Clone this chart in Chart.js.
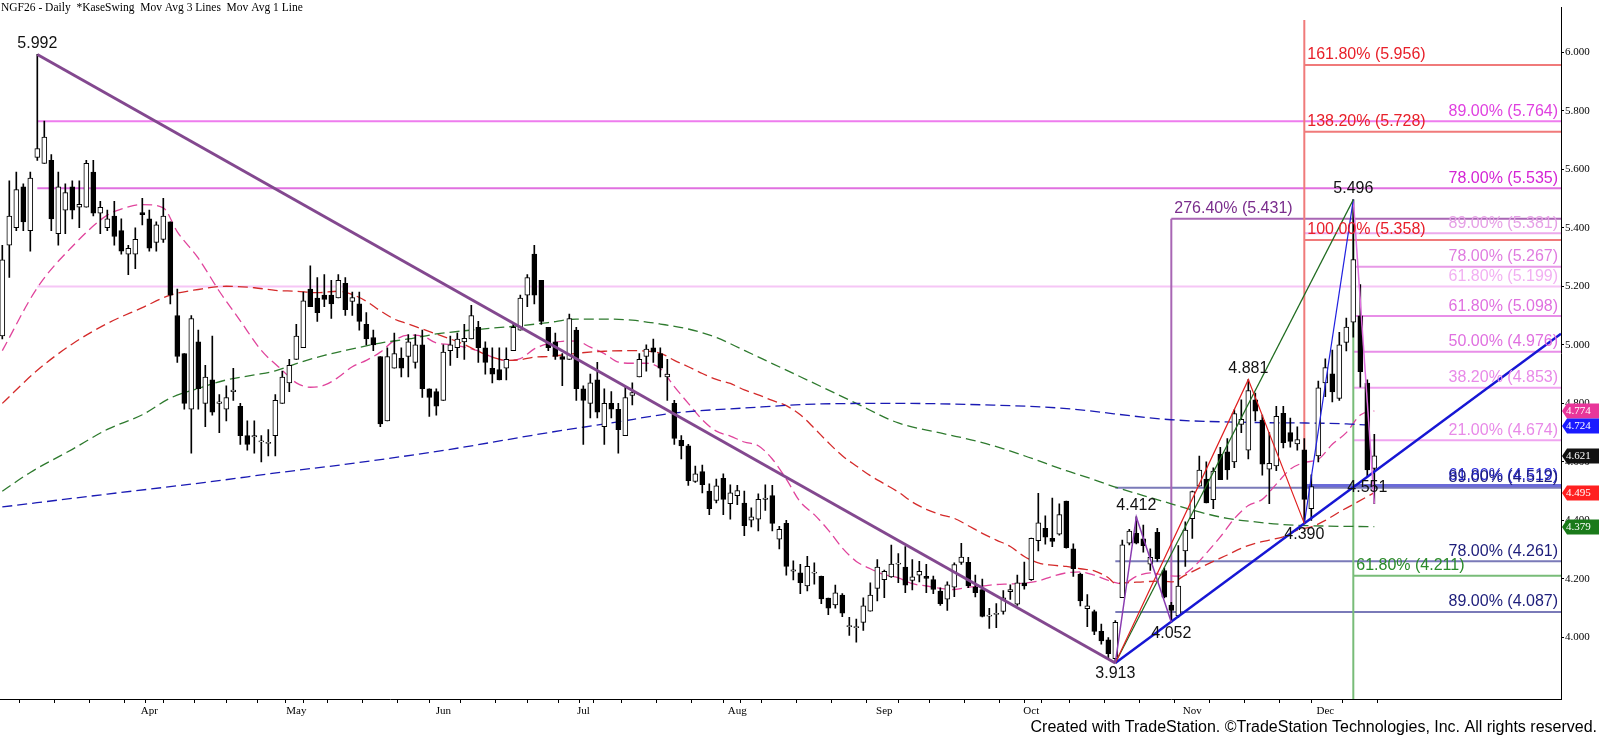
<!DOCTYPE html>
<html>
<head>
<meta charset="utf-8">
<title>NGF26 - Daily</title>
<script src="https://cdn.jsdelivr.net/npm/chart.js@4.4.1/dist/chart.umd.min.js"></script>
<style>
  html, body { margin: 0; padding: 0; background: #fff; }
  #wrap { width: 1600px; height: 739px; position: relative; }
</style>
</head>
<body>
<div id="wrap"><canvas id="chart"></canvas></div>
<script>
// daily bars, index 0 = first bar on the chart (early March)
const opens = [
  5.03,5.34,5.40,5.54,5.39,5.64,5.62,5.63,5.38,5.46,
  5.54,5.47,5.47,5.59,5.45,5.40,5.44,5.39,5.31,5.31,
  5.452,5.43,5.35,5.36,5.42,5.10,4.97,4.78,5.01,4.80,
  4.88,4.80,4.78,4.84,4.79,4.69,4.685,4.668,4.663,4.69,
  4.80,4.87,4.95,4.99,5.19,5.16,5.17,5.17,5.16,5.21,
  5.148,5.14,5.07,5.025,4.96,4.74,4.92,4.955,4.96,4.94,
  5.00,4.85,4.84,4.81,4.98,4.99,5.01,5.02,5.06,4.99,
  4.92,4.915,4.92,4.98,5.05,5.17,5.31,5.22,5.06,5.01,
  4.96,4.95,5.05,4.85,4.80,4.88,4.72,4.80,4.78,4.69,
  4.827,4.89,4.96,4.99,4.97,4.89,4.80,4.674,4.655,4.533,
  4.567,4.50,4.468,4.544,4.457,4.485,4.459,4.401,4.404,4.472,
  4.485,4.336,4.39,4.227,4.221,4.176,4.22,4.209,4.135,4.111,
  4.145,4.037,4.034,4.052,4.09,4.168,4.198,4.207,4.251,4.241,
  4.195,4.213,4.209,4.198,4.159,4.131,4.172,4.257,4.257,4.172,
  4.164,4.073,4.079,4.089,4.157,4.114,4.187,4.198,4.331,4.373,
  4.339,4.353,4.466,4.303,4.217,4.099,4.089,4.021,3.992,3.928,
  4.136,4.322,4.356,4.337,4.251,4.359,4.229,4.111,4.074,4.296,
  4.406,4.517,4.541,4.471,4.626,4.634,4.60,4.728,4.64,4.812,
  4.743,4.575,4.586,4.766,4.70,4.661,4.641,4.44,4.62,4.87,
  4.901,4.817,5.008,5.077,5.099,4.869,4.578
];
const highs = [
  5.34,5.56,5.59,5.55,5.59,5.992,5.764,5.65,5.59,5.55,
  5.56,5.56,5.63,5.63,5.49,5.46,5.49,5.43,5.34,5.40,
  5.50,5.46,5.42,5.50,5.42,5.19,4.97,5.10,5.05,4.93,
  5.03,4.83,4.86,4.92,4.80,4.74,4.74,4.69,4.71,4.83,
  4.91,4.95,5.07,5.18,5.27,5.23,5.24,5.22,5.24,5.23,
  5.18,5.18,5.11,5.05,4.96,4.99,5.04,4.99,5.035,5.035,
  5.05,4.85,4.85,5.00,5.03,5.04,5.07,5.135,5.08,5.01,
  4.99,4.99,4.99,5.07,5.17,5.24,5.34,5.22,5.06,5.04,
  4.97,5.105,5.06,4.86,4.90,4.94,4.85,4.84,4.80,4.855,
  4.87,4.97,5.00,5.02,4.99,4.95,4.81,4.69,4.66,4.586,
  4.589,4.525,4.541,4.559,4.522,4.52,4.50,4.443,4.491,4.522,
  4.52,4.38,4.40,4.262,4.25,4.277,4.255,4.21,4.135,4.179,
  4.15,4.069,4.063,4.136,4.187,4.266,4.23,4.316,4.287,4.311,
  4.266,4.26,4.25,4.21,4.17,4.19,4.255,4.322,4.274,4.213,
  4.20,4.10,4.116,4.16,4.18,4.213,4.258,4.34,4.493,4.416,
  4.476,4.457,4.466,4.32,4.22,4.147,4.094,4.046,4.00,4.058,
  4.333,4.37,4.412,4.384,4.303,4.373,4.237,4.12,4.314,4.395,
  4.50,4.62,4.60,4.58,4.65,4.68,4.778,4.812,4.881,4.835,
  4.76,4.70,4.79,4.79,4.75,4.72,4.68,4.556,4.876,4.952,
  4.982,5.043,5.091,5.496,5.206,4.88,4.694
];
const lows = [
  5.02,5.23,5.39,5.39,5.32,5.63,5.62,5.39,5.34,5.38,
  5.43,5.40,5.47,5.44,5.38,5.39,5.34,5.31,5.24,5.26,
  5.41,5.32,5.32,5.35,5.14,4.94,4.78,4.63,4.78,4.72,
  4.76,4.70,4.74,4.81,4.66,4.64,4.63,4.60,4.62,4.62,
  4.80,4.84,4.95,4.99,5.13,5.08,5.13,5.09,5.16,5.10,
  5.10,5.05,5.00,4.98,4.72,4.74,4.92,4.89,4.89,4.92,
  4.82,4.755,4.76,4.81,4.93,4.956,4.95,5.02,4.94,4.90,
  4.87,4.88,4.88,4.98,5.05,5.13,5.14,5.07,4.98,4.95,
  4.86,4.95,4.81,4.66,4.75,4.75,4.66,4.75,4.63,4.69,
  4.795,4.89,4.91,4.94,4.89,4.81,4.66,4.61,4.52,4.53,
  4.494,4.42,4.46,4.42,4.404,4.454,4.348,4.378,4.364,4.434,
  4.364,4.303,4.213,4.197,4.15,4.159,4.182,4.116,4.078,4.10,
  4.071,4.007,3.984,4.024,4.09,4.125,4.136,4.205,4.187,4.153,
  4.163,4.19,4.153,4.15,4.11,4.093,4.14,4.25,4.17,4.139,
  4.07,4.031,4.034,4.08,4.13,4.11,4.165,4.195,4.296,4.319,
  4.31,4.35,4.305,4.209,4.108,4.037,4.01,3.977,3.928,3.913,
  4.136,4.316,4.32,4.292,4.229,4.26,4.135,4.052,4.069,4.243,
  4.339,4.517,4.46,4.44,4.539,4.54,4.58,4.70,4.61,4.74,
  4.555,4.457,4.57,4.648,4.65,4.64,4.39,4.40,4.60,4.823,
  4.805,4.81,4.979,5.026,4.855,4.551,4.457
];
const closes = [
  5.29,5.44,5.53,5.42,5.57,5.67,5.71,5.43,5.54,5.52,
  5.46,5.48,5.62,5.45,5.47,5.43,5.37,5.32,5.33,5.36,
  5.445,5.33,5.41,5.44,5.17,4.96,4.80,5.09,4.85,4.89,
  4.77,4.805,4.82,4.845,4.69,4.66,4.69,4.672,4.667,4.81,
  4.89,4.93,5.03,5.15,5.13,5.11,5.155,5.14,5.22,5.12,
  5.161,5.08,5.02,5.00,4.73,4.96,4.97,4.92,5.01,5.00,
  4.85,4.82,4.79,4.975,5.00,5.02,5.022,5.10,4.99,4.94,
  4.90,4.88,4.95,5.06,5.16,5.23,5.17,5.08,4.99,4.96,
  4.95,5.09,4.85,4.81,4.87,4.77,4.80,4.78,4.71,4.82,
  4.837,4.95,4.985,4.975,4.92,4.90,4.68,4.655,4.536,4.559,
  4.522,4.44,4.518,4.472,4.494,4.502,4.382,4.412,4.472,4.476,
  4.39,4.37,4.243,4.231,4.187,4.243,4.222,4.132,4.10,4.153,
  4.083,4.039,4.036,4.108,4.145,4.241,4.226,4.251,4.253,4.179,
  4.207,4.226,4.202,4.164,4.116,4.18,4.249,4.275,4.176,4.153,
  4.072,4.075,4.081,4.136,4.164,4.187,4.176,4.339,4.392,4.343,
  4.328,4.42,4.307,4.235,4.125,4.108,4.021,3.988,3.945,4.052,
  4.317,4.364,4.322,4.314,4.274,4.269,4.138,4.093,4.176,4.367,
  4.499,4.572,4.46,4.569,4.539,4.573,4.765,4.745,4.844,4.773,
  4.592,4.595,4.756,4.666,4.67,4.676,4.472,4.516,4.853,4.922,
  4.839,5.00,5.061,5.291,4.908,4.573,4.621
];

// time axis: bar index of each week start and each month start
const weekTicks = [0,5,10,15,20,25,30,34,39,44,49,54,59,63,68,73,77,82,86,91,96,101,
  106,111,116,121,126,130,135,140,145,150,155,160,165,170,175,180,185,189,194];
const monthTicks = [21,42,63,83,105,126,147,170,189];
const monthNames = ['Apr','May','Jun','Jul','Aug','Sep','Oct','Nov','Dec'];
const priceTicks = [4.0,4.2,4.4,4.6,4.8,5.0,5.2,5.4,5.6,5.8,6.0];

// moving averages at these bars
const pinkIdx = [0,5,10,15,18,20,23,25,28,31,34,37,40,42,44,46,48,50,52,54,56,58,60,62,64,66,68,70,72,74,
  76,78,80,82,84,86,88,90,92,94,96,98,100,102,104,106,108,110,112,114,116,118,120,122,124,126,128,130,
  132,134,136,138,140,142,144,146,148,150,152,154,156,158,160,162,164,166,168,170,172,174,176,178,180,
  182,184,186,188,190,192,194,196];
const pinkVals = [4.98,5.195,5.336,5.443,5.471,5.479,5.468,5.386,5.296,5.183,5.082,4.981,4.913,4.87,4.855,
  4.862,4.889,4.925,4.947,4.975,5.015,5.033,5.03,5.006,5.001,4.992,4.979,4.958,4.947,4.953,4.986,5.004,
  5.012,5.013,4.992,4.97,4.941,4.937,4.937,4.919,4.857,4.80,4.744,4.705,4.688,4.668,4.655,4.61,4.541,
  4.463,4.42,4.367,4.306,4.26,4.235,4.215,4.204,4.184,4.176,4.168,4.164,4.172,4.176,4.181,4.183,4.186,
  4.193,4.209,4.221,4.224,4.213,4.195,4.183,4.209,4.221,4.213,4.21,4.237,4.288,4.344,4.406,4.451,4.472,
  4.524,4.575,4.598,4.609,4.66,4.70,4.76,4.774];
const redIdx = [0,5,10,15,20,24,28,32,36,39,42,45,48,50,52,54,56,58,60,62,64,66,68,70,72,74,76,78,82,86,
  90,94,96,98,100,102,104,106,108,110,112,114,116,118,120,122,124,126,128,130,132,134,136,138,140,142,
  144,146,148,150,152,154,156,158,159,161,163,165,167,169,171,173,175,177,179,181,183,185,187,189,191,
  193,196];
const redVals = [4.80,4.913,5.003,5.073,5.127,5.17,5.189,5.20,5.195,5.186,5.183,5.178,5.183,5.172,5.149,
  5.116,5.088,5.071,5.054,5.037,5.02,5.001,4.978,4.958,4.947,4.949,4.958,4.96,4.971,4.978,4.98,4.971,
  4.947,4.925,4.902,4.882,4.868,4.846,4.829,4.81,4.792,4.761,4.715,4.666,4.621,4.586,4.553,4.525,4.497,
  4.463,4.438,4.42,4.407,4.382,4.356,4.333,4.311,4.277,4.255,4.247,4.243,4.235,4.228,4.204,4.185,4.188,
  4.19,4.193,4.19,4.213,4.237,4.26,4.282,4.305,4.322,4.333,4.344,4.367,4.378,4.40,4.429,4.455,4.495];
const greenIdx = [0,4,10,15,20,24,28,32,36,39,42,46,50,54,58,62,66,70,74,78,82,86,90,94,98,102,106,110,
  114,117,122,128,134,140,146,152,155,159,163,167,171,175,179,183,187,191,196];
const greenVals = [4.50,4.564,4.643,4.711,4.761,4.818,4.851,4.88,4.897,4.911,4.936,4.964,4.986,5.006,5.02,
  5.037,5.048,5.057,5.065,5.076,5.088,5.088,5.084,5.071,5.054,5.025,4.981,4.936,4.891,4.857,4.80,4.733,
  4.699,4.666,4.621,4.57,4.547,4.514,4.485,4.457,4.429,4.407,4.395,4.386,4.382,4.38,4.379];
const blueIdx = [0,15,29,40,51,64,78,87,96,106,117,128,140,151,167,178,192,196];
const blueVals = [4.446,4.49,4.53,4.565,4.598,4.643,4.70,4.733,4.767,4.784,4.798,4.80,4.795,4.784,4.744,
  4.735,4.73,4.724];

// swing points
const pivotIdx = [5,159,162,167,178,186,193,195];
const pivotVals = [5.992,3.913,4.412,4.052,4.881,4.390,5.496,4.551];
const pivotIsHigh = [true,false,true,false,true,false,true,false];

// fibonacci levels: percent, price, bar where the line starts
const fibPcts = ['161.80%','138.20%','100.00%','89.00%','78.00%','276.40%','89.00%','78.00%','61.80%',
  '61.80%','50.00%','38.20%','21.00%','61.80%','89.00%','78.00%','89.00%','61.80%'];
const fibLevels = [5.956,5.728,5.358,5.764,5.535,5.431,5.381,5.267,5.199,5.098,4.976,4.853,4.674,4.519,
  4.512,4.261,4.087,4.211];
const fibFrom = [186,186,186,5,5,167,186,193,5,193,193,193,193,186,159,159,159,193];

// last values shown in the price scale
const tagVals = [4.774,4.724,4.621,4.495,4.379];

// ---- look ----
const fibLook = [
  { line: '#f07a7a', text: '#e8202a', side: 'left' },
  { line: '#f07a7a', text: '#e8202a', side: 'left' },
  { line: '#f07a7a', text: '#e8202a', side: 'left' },
  { line: '#ee7cee', text: '#e040e0', side: 'right' },
  { line: '#e070e0', text: '#d424d4', side: 'right' },
  { line: '#a866b4', text: '#7a2d8c', side: 'left' },
  { line: '#ecaaec', text: '#e6a0e6', side: 'right' },
  { line: '#e79ae7', text: '#e07ce0', side: 'right' },
  { line: '#f6c6f6', text: '#f2b0f2', side: 'right' },
  { line: '#e88ee8', text: '#e070e0', side: 'right' },
  { line: '#e88ee8', text: '#e070e0', side: 'right' },
  { line: '#f0a4f0', text: '#e88ae8', side: 'right' },
  { line: '#f0a4f0', text: '#e88ae8', side: 'right' },
  { line: '#6a6ad8', text: '#2a2ad8', side: 'right', width: 3 },
  { line: '#7a7ab8', text: '#1c1c7a', side: 'right' },
  { line: '#7a7ab8', text: '#1c1c7a', side: 'right' },
  { line: '#7a7ab8', text: '#1c1c7a', side: 'right' },
  { line: '#78bc78', text: '#2a8a2a', side: 'left' }
];
const tagColors = ['#e8369a', '#1a1aff', '#111111', '#ff2020', '#1a7a1a'];

const X_MIN = -0.33, X_MAX = 222.67;
const Y_MIN = 3.79, Y_MAX = 6.152;
const SANS = '"Liberation Sans", Arial, sans-serif';
const SERIF = '"Liberation Serif", "Times New Roman", serif';

// ---- datasets ----
const idx = opens.map((_, i) => i);
const last = idx.length - 1;
const wicks = idx.map(i => ({ x: i, y: [lows[i], highs[i]] }));
const upBodies = idx.filter(i => closes[i] >= opens[i]).map(i => ({ x: i, y: [opens[i], closes[i]] }));
const downBodies = idx.filter(i => closes[i] < opens[i]).map(i => ({ x: i, y: [opens[i], closes[i]] }));

function line(points, color, width, order, extra) {
  return Object.assign({
    type: 'line', data: points, borderColor: color, borderWidth: width,
    pointRadius: 0, fill: false, tension: 0, order: order
  }, extra || {});
}
function ma(ix, vals, color) {
  return line(ix.map((x, k) => ({ x: x, y: vals[k] })), color, 1.3, 40,
    { borderDash: [10, 5], cubicInterpolationMode: 'monotone' });
}
function piv(k) { return { x: pivotIdx[k], y: pivotVals[k] }; }

const datasets = [];

fibLevels.forEach((v, k) => {
  datasets.push(line([{ x: fibFrom[k], y: v }, { x: X_MAX, y: v }],
    fibLook[k].line, fibLook[k].width || 2, 50));
});

// vertical guides
datasets.push(line([piv(5), { x: pivotIdx[5], y: 6.11 }], '#f07a7a', 2, 48));
datasets.push(line([piv(3), { x: pivotIdx[3], y: fibLevels[5] }], '#a866b4', 2, 48));
datasets.push(line([piv(6), { x: pivotIdx[6], y: Y_MIN }], '#78bc78', 2, 48));

datasets.push(ma(blueIdx, blueVals, '#1a1ab4'));
datasets.push(ma(greenIdx, greenVals, '#2e7a2e'));
datasets.push(ma(redIdx, redVals, '#d42a2a'));
datasets.push(ma(pinkIdx, pinkVals, '#e0449c'));

datasets.push({
  type: 'bar', data: wicks, backgroundColor: '#000', barThickness: 1, grouped: false, order: 30
});
datasets.push({
  type: 'bar', data: upBodies, backgroundColor: '#fff', borderColor: '#000', borderWidth: 1,
  borderSkipped: false, barThickness: 5, minBarLength: 1, grouped: false, order: 29
});
datasets.push({
  type: 'bar', data: downBodies, backgroundColor: '#000', borderColor: '#000', borderWidth: 1,
  borderSkipped: false, barThickness: 5, minBarLength: 1, grouped: false, order: 29
});

// down trendline from the spring high to the October low
datasets.push(line([piv(0), piv(1)], '#83488f', 3, 12));
// up trendline through the October low and the November low, carried to the right edge
const upSlope = (pivotVals[5] - pivotVals[1]) / (pivotIdx[5] - pivotIdx[1]);
datasets.push(line([piv(1), { x: X_MAX, y: pivotVals[1] + upSlope * (X_MAX - pivotIdx[1]) }], '#1616d4', 2.5, 12));

// swing lines
datasets.push(line([piv(1), piv(2), piv(3)], '#8a3cb0', 1.5, 10));
datasets.push(line([piv(1), piv(4), piv(5)], '#e02020', 1.2, 10));
datasets.push(line([piv(1), piv(6)], '#1f6b1f', 1.2, 10));
datasets.push(line([piv(5), piv(6)], '#2020e0', 1.2, 10));
datasets.push(line([piv(6), { x: last, y: lows[last] }], '#e070e0', 1.5, 10));

// ---- text drawn on the chart ----
const overlay = {
  id: 'overlay',
  afterDatasetsDraw(chart) {
    const { ctx, chartArea } = chart;
    const x = chart.scales.x, y = chart.scales.y;
    ctx.save();
    ctx.font = '16px ' + SANS;
    ctx.textBaseline = 'bottom';
    fibLevels.forEach((v, k) => {
      const look = fibLook[k];
      const label = fibPcts[k] + ' (' + v.toFixed(3) + ')';
      const py = y.getPixelForValue(v) - 2;
      ctx.fillStyle = look.text;
      if (look.side === 'right') {
        ctx.textAlign = 'right';
        ctx.fillText(label, chartArea.right - 3, py);
      } else {
        ctx.textAlign = 'left';
        ctx.fillText(label, x.getPixelForValue(fibFrom[k]) + 3, py);
      }
    });
    ctx.fillStyle = '#111';
    ctx.textAlign = 'center';
    pivotIdx.forEach((p, k) => {
      const px = x.getPixelForValue(p);
      const py = y.getPixelForValue(pivotVals[k]);
      if (pivotIsHigh[k]) {
        ctx.textBaseline = 'bottom';
        ctx.fillText(pivotVals[k].toFixed(3), px, py - 3);
      } else {
        ctx.textBaseline = 'top';
        ctx.fillText(pivotVals[k].toFixed(3), px, py + 3);
      }
    });
    ctx.restore();
  },
  afterDraw(chart) {
    const { ctx, chartArea } = chart;
    const y = chart.scales.y;
    ctx.save();
    // value tags on the price scale
    ctx.font = '11px ' + SERIF;
    ctx.textBaseline = 'middle';
    ctx.textAlign = 'left';
    tagVals.forEach((v, k) => {
      const py = Math.round(y.getPixelForValue(v));
      const left = chartArea.right + 1;
      ctx.fillStyle = tagColors[k];
      ctx.beginPath();
      ctx.moveTo(left, py);
      ctx.lineTo(left + 5, py - 7.5);
      ctx.lineTo(1599, py - 7.5);
      ctx.lineTo(1599, py + 7.5);
      ctx.lineTo(left + 5, py + 7.5);
      ctx.closePath();
      ctx.fill();
      ctx.fillStyle = '#fff';
      ctx.fillText(v.toFixed(3), left + 4, py + 0.5);
    });
    // header and footer
    ctx.fillStyle = '#000';
    ctx.font = '11.5px ' + SERIF;
    ctx.textBaseline = 'middle';
    ctx.fillText('NGF26 - Daily  *KaseSwing  Mov Avg 3 Lines  Mov Avg 1 Line', 1, 8);
    ctx.font = '16px ' + SANS;
    ctx.textAlign = 'right';
    ctx.fillText('Created with TradeStation. \u00A9TradeStation Technologies, Inc. All rights reserved.', 1597, 728);
    ctx.restore();
  }
};

new Chart(document.getElementById('chart'), {
  type: 'bar',
  data: { datasets: datasets },
  plugins: [overlay],
  options: {
    responsive: true,
    maintainAspectRatio: false,
    animation: false,
    layout: { padding: 0 },
    plugins: {
      legend: { display: false },
      tooltip: { enabled: false },
      title: { display: false }
    },
    scales: {
      x: {
        type: 'linear',
        position: 'bottom',
        min: X_MIN,
        max: X_MAX,
        offset: false,
        afterBuildTicks: (scale) => {
          const all = Array.from(new Set(weekTicks.concat(monthTicks))).sort((a, b) => a - b);
          scale.ticks = all.map(v => ({ value: v }));
        },
        afterFit: (scale) => { scale.height = 40; },
        grid: { drawOnChartArea: false, drawTicks: true, tickLength: 4, color: '#000' },
        border: { display: true, color: '#000', width: 1 },
        ticks: {
          autoSkip: false,
          maxRotation: 0,
          minRotation: 0,
          padding: 2,
          color: '#000',
          font: { family: SERIF, size: 11 },
          callback: (v) => {
            const m = monthTicks.indexOf(v);
            return m >= 0 ? monthNames[m] : '';
          }
        }
      },
      y: {
        type: 'linear',
        position: 'right',
        min: Y_MIN,
        max: Y_MAX,
        afterBuildTicks: (scale) => { scale.ticks = priceTicks.map(v => ({ value: v })); },
        afterFit: (scale) => { scale.width = 39; },
        grid: { drawOnChartArea: false, drawTicks: true, tickLength: 3, color: '#000' },
        border: { display: true, color: '#000', width: 1 },
        ticks: {
          padding: 1,
          color: '#000',
          font: { family: SERIF, size: 11 },
          callback: (v) => Number(v).toFixed(3)
        }
      }
    }
  }
});
</script>
</body>
</html>
